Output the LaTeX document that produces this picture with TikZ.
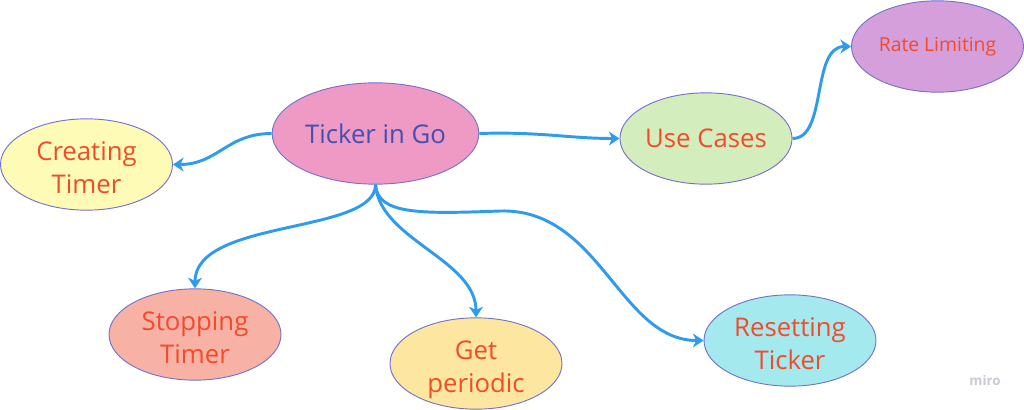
\documentclass[tikz,border=0pt]{standalone}
\usepackage{fontspec}
\setmainfont{Open Sans}
\usetikzlibrary{shapes.geometric,arrows.meta}
\definecolor{txtred}{HTML}{F24B2C}
\definecolor{txtblue}{HTML}{4150B5}
\definecolor{edgec}{HTML}{7373CC}
\definecolor{arrowc}{HTML}{2E9BEF}
\definecolor{fpink}{HTML}{EF9AC4}
\definecolor{fyellow}{HTML}{FEFBB6}
\definecolor{fgreen}{HTML}{D4EDBD}
\definecolor{fpurple}{HTML}{D59FDC}
\definecolor{fsalmon}{HTML}{F8B2A5}
\definecolor{forange}{HTML}{FDE7A0}
\definecolor{fcyan}{HTML}{A4E9EE}
\definecolor{mirogray}{HTML}{C9C9D4}
\begin{document}
\begin{tikzpicture}[x=0.75pt,y=-0.75pt,
  topic/.style={ellipse, draw=edgec, line width=0.7pt, inner sep=0pt,
    minimum width=129pt, minimum height=68.5pt, align=center,
    font=\fontsize{19.3pt}{25pt}\selectfont, text=txtred},
  twoline/.style={text height=44pt, text depth=0pt},
  conn/.style={draw=arrowc, line width=2.2pt,
    -{Stealth[length=8pt,width=10.5pt,inset=2.5pt]}}]
\useasboundingbox (0,0) rectangle (1024,410);
\node[topic, fill=fpink, text=txtblue, minimum width=155pt, minimum height=76pt] (T) at (375.5,133.5) {Ticker in Go};
\node[topic, twoline, fill=fyellow] (C) at (86.5,164.5) {Creating\\Timer};
\node[topic, fill=fgreen] (U) at (706,138.5) {Use Cases};
\node[topic, fill=fpurple, font=\fontsize{14.5pt}{18pt}\selectfont] (RL) at (937.5,46.5) {Rate Limiting};
\node[topic, twoline, fill=fsalmon] (S) at (195,334.5) {Stopping\\Timer};
\node[topic, twoline, fill=forange] (G) at (476,363.5) {Get\\periodic};
\node[topic, twoline, fill=fcyan] (R) at (790,340.5) {Resetting\\Ticker};
\node[text=mirogray, font=\fontsize{10pt}{12pt}\selectfont\bfseries] (miro) at (985,380) {miro};
\coordinate (mid) at (500,211);
\draw[conn] (T.west) .. controls +(-45,0) and +(45,0) .. (C.east);
\draw[conn] (T.east) .. controls +(60,-2) and +(-50,0) .. (U.west);
\draw[conn] (U.east) .. controls +(35,0) and +(-40,0) .. (RL.west);
\draw[conn] (T.south) .. controls +(0,50) and +(0,-70) .. (S.north);
\draw[conn] (T.south) .. controls +(4,55) and +(0,-58) .. (G.north);
\draw[conn] (T.south) .. controls +(2,30) and +(-80,3) .. (mid) .. controls +(100,-3) and +(-84,0) .. (R.west);
\end{tikzpicture}
\end{document}
